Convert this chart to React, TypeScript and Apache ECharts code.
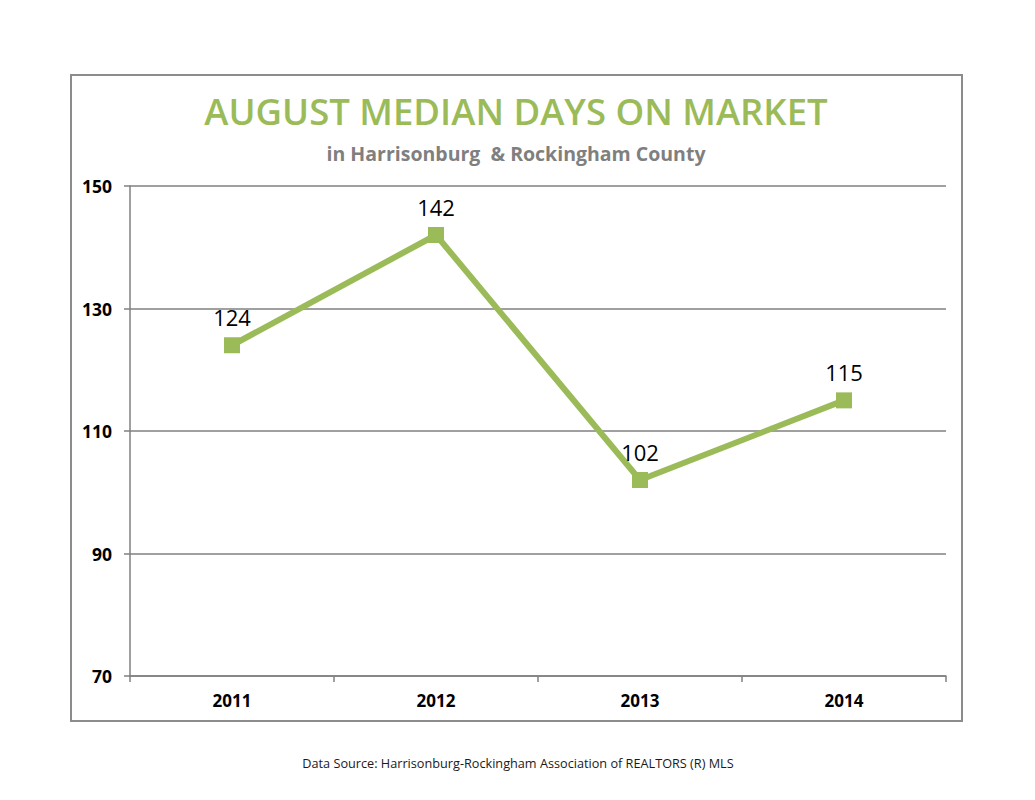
import React, { useEffect, useRef } from "react";
import * as echarts from "echarts";

const categories = ["2011", "2012", "2013", "2014"];
const values = [124, 142, 102, 115];
const yTicks = [70, 90, 110, 130, 150];

const titleText = "AUGUST MEDIAN DAYS ON MARKET";
const subtitleText = "in Harrisonburg  & Rockingham County";
const sourceText = "Data Source: Harrisonburg-Rockingham Association of REALTORS (R) MLS";

const GREEN = "#9bbb59";
const FONT = "'Open Sans', 'Noto Sans', sans-serif";

export default function App() {
  const ref = useRef<HTMLDivElement>(null);
  useEffect(() => {
    document.body.style.margin = "0";
    const chart = echarts.init(ref.current!, null, { renderer: "svg" });
    chart.setOption({
      animation: false,
      backgroundColor: "#ffffff",
      textStyle: { fontFamily: FONT },
      title: [
        {
          text: titleText,
          left: 511,
          top: 87,
          textAlign: "center",
          textStyle: { color: GREEN, fontSize: 36.5, fontWeight: 600, fontFamily: FONT },
        },
        {
          text: subtitleText,
          left: 511,
          top: 138,
          textAlign: "center",
          textStyle: { color: "#7f7f7f", fontSize: 19.5, fontWeight: "bold", fontFamily: FONT },
        },
        {
          text: sourceText,
          left: 513,
          top: 751,
          textAlign: "center",
          textStyle: { color: "#1a1a1a", fontSize: 12.7, fontWeight: "normal", fontFamily: FONT },
        },
      ],
      graphic: [
        {
          type: "rect",
          shape: { x: 71, y: 75, width: 891, height: 646 },
          style: { fill: "none", stroke: "#8c8c8c", lineWidth: 2 },
          silent: true,
        },
      ],
      grid: { left: 130, right: 1035 - 946, top: 186, bottom: 800 - 676, containLabel: false },
      xAxis: {
        type: "category",
        data: categories,
        boundaryGap: true,
        axisLine: { lineStyle: { color: "#808080", width: 1.5 } },
        axisTick: { show: true, length: 6, alignWithLabel: false, lineStyle: { color: "#808080", width: 1.5 } },
        axisLabel: { color: "#000", fontSize: 17, fontWeight: "bold", margin: 16, fontFamily: FONT },
      },
      yAxis: {
        type: "value",
        min: yTicks[0],
        max: yTicks[yTicks.length - 1],
        interval: 20,
        axisLine: { show: true, lineStyle: { color: "#808080", width: 1.5 } },
        axisTick: { show: true, length: 6, lineStyle: { color: "#808080", width: 1.5 } },
        axisLabel: { color: "#000", fontSize: 17.5, fontWeight: "bold", margin: 18, fontFamily: FONT },
        splitLine: { show: true, lineStyle: { color: "#808080", width: 1.5 } },
      },
      series: [
        {
          type: "line",
          data: values,
          symbol: "rect",
          symbolSize: 16,
          lineStyle: { color: GREEN, width: 6 },
          itemStyle: { color: GREEN },
          label: {
            show: true,
            position: "top",
            distance: 9,
            color: "#000",
            fontSize: 22,
            fontWeight: 500,
            fontFamily: FONT,
          },
        },
      ],
    });
    return () => chart.dispose();
  }, []);
  return <div ref={ref} style={{ width: 1035, height: 800 }} />;
}
